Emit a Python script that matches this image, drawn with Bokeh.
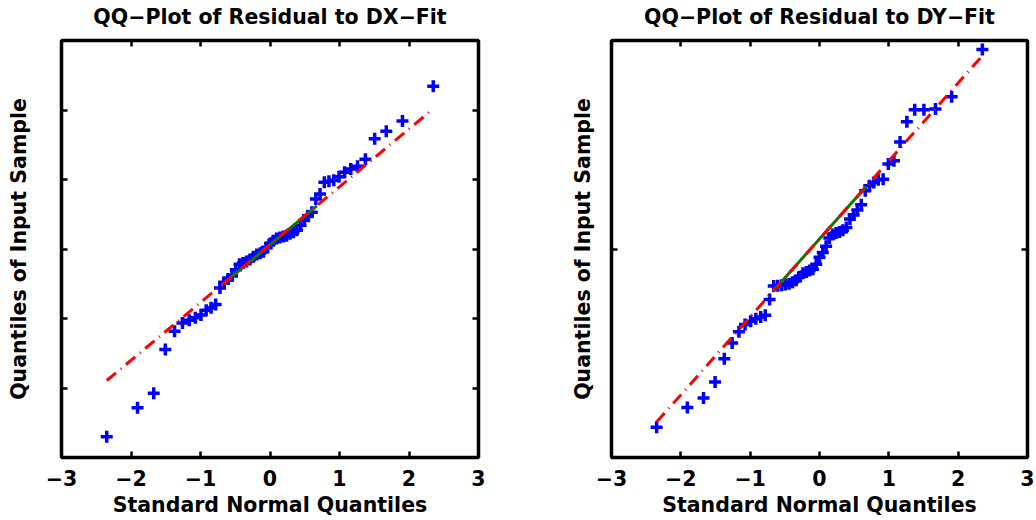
from bokeh.plotting import figure
from bokeh.layouts import row
from bokeh.models import Range1d, FixedTicker, LinearAxis
from bokeh.embed import file_html
from bokeh.resources import INLINE

# Standard normal quantiles (n = 53) shared by both panels
normal_quantiles = [-2.349, -1.906, -1.673, -1.506, -1.373, -1.260, -1.162, -1.074, -0.993,
                    -0.918, -0.848, -0.782, -0.720, -0.660, -0.602, -0.546, -0.492, -0.439,
                    -0.388, -0.337, -0.288, -0.239, -0.190, -0.142, -0.095, -0.047, 0.0,
                    0.047, 0.095, 0.142, 0.190, 0.239, 0.288, 0.337, 0.388, 0.439, 0.492,
                    0.546, 0.602, 0.660, 0.720, 0.782, 0.848, 0.918, 0.993, 1.074, 1.162,
                    1.260, 1.373, 1.506, 1.673, 1.906, 2.349]

# Sorted residual quantiles (axis units)
dx_residuals = [0.30, 0.715, 0.925, 1.554, 1.815, 1.935, 1.975, 2.01, 2.05, 2.12, 2.155, 2.20,
                2.44, 2.52, 2.57, 2.61, 2.70, 2.78, 2.80, 2.82, 2.85, 2.89, 2.92, 2.94, 2.96,
                3.02, 3.08, 3.12, 3.15, 3.165, 3.18, 3.19, 3.22, 3.24, 3.27, 3.34, 3.41, 3.48,
                3.53, 3.72, 3.79, 3.96, 3.975, 3.99, 4.04, 4.105, 4.15, 4.19, 4.29, 4.585,
                4.695, 4.84, 5.34]
dy_residuals = [-2.563, -2.279, -2.145, -1.914, -1.58, -1.351, -1.19, -1.086, -1.04, -1.005,
                -0.98, -0.952, -0.726, -0.534, -0.53, -0.52, -0.51, -0.50, -0.48, -0.45, -0.40,
                -0.35, -0.33, -0.31, -0.29, -0.22, -0.12, -0.05, 0.04, 0.16, 0.21, 0.23, 0.245,
                0.27, 0.31, 0.43, 0.49, 0.56, 0.635, 0.837, 0.909, 0.956, 0.995, 1.005, 1.222,
                1.27, 1.54, 1.832, 2.005, 2.005, 2.015, 2.19, 2.87]

# Reference lines: dash-dot extension over the full range, solid between quartiles
dx_ext_x = [-2.349, 2.349]
dx_ext_y = [1.108, 5.017]
dx_iqr_x = [-0.674, 0.674]
dx_iqr_y = [2.50, 3.62]
dy_ext_x = [-2.349, 2.349]
dy_ext_y = [-2.49, 2.78]
dy_iqr_x = [-0.674, 0.674]
dy_iqr_y = [-0.61, 0.90]

x_ticks = [-3, -2, -1, 0, 1, 2, 3]
x_tick_labels = ["\u22123", "\u22122", "\u22121", "0", "1", "2", "3"]
dx_y_ticks = [1, 2, 3, 4, 5]
dy_y_ticks = [0]

titles = ["QQ\u2212Plot of Residual to DX\u2212Fit", "QQ\u2212Plot of Residual to DY\u2212Fit"]
x_label = "Standard Normal Quantiles"
y_label = "Quantiles of Input Sample"

FONT = "DejaVu Sans"
FS = "20.5px"


def style_labeled_axis(ax, ticks):
    ax.ticker = FixedTicker(ticks=ticks)
    ax.axis_line_color = None
    ax.major_tick_in = 6
    ax.major_tick_out = 0
    ax.major_tick_line_width = 2.5
    ax.major_tick_line_color = "black"
    ax.minor_tick_line_color = None
    ax.major_label_text_font = FONT
    ax.major_label_text_font_style = "bold"
    ax.major_label_text_color = "black"
    ax.major_label_text_font_size = FS


def style_bare_axis(ax, ticks):
    # tick marks only (drawn as minor ticks, so no label texts are produced)
    ax.ticker = FixedTicker(ticks=[], minor_ticks=ticks)
    ax.axis_line_color = None
    ax.major_tick_line_color = None
    ax.minor_tick_in = 6
    ax.minor_tick_out = 0
    ax.minor_tick_line_width = 2.5
    ax.minor_tick_line_color = "black"
    ax.major_label_standoff = 0


def style_title_text(ax, text, standoff):
    ax.axis_label = text
    ax.axis_label_text_font = FONT
    ax.axis_label_text_font_size = FS
    ax.axis_label_text_font_style = "bold"
    ax.axis_label_text_color = "black"
    ax.axis_label_standoff = standoff


def panel(title, ys, ext_x, ext_y, iqr_x, iqr_y, yr, yticks, width, ml, mr, ylab_standoff):
    p = figure(width=width, height=520, x_range=Range1d(-3, 3), y_range=Range1d(*yr),
               output_backend="svg", toolbar_location=None,
               min_border_left=ml, min_border_right=mr, min_border_top=40, min_border_bottom=63)
    p.xgrid.visible = False
    p.ygrid.visible = False
    p.outline_line_color = "black"
    p.outline_line_width = 3.5
    p.background_fill_color = "white"
    p.border_fill_color = "white"

    xa = p.xaxis[0]
    style_labeled_axis(xa, x_ticks)
    xa.major_label_overrides = {t: l for t, l in zip(x_ticks, x_tick_labels)}
    xa.major_label_standoff = 12
    style_title_text(xa, x_label, 4)

    ya = p.yaxis[0]
    style_bare_axis(ya, yticks)
    style_title_text(ya, y_label, ylab_standoff)

    # top axis: inward tick marks, panel title as its label
    top = LinearAxis()
    style_bare_axis(top, x_ticks)
    style_title_text(top, title, 12)
    p.add_layout(top, "above")

    right = LinearAxis()
    style_bare_axis(right, yticks)
    p.add_layout(right, "right")

    p.scatter(normal_quantiles, ys, marker="cross", size=12, line_width=3.5, line_color="blue")
    p.line(iqr_x, iqr_y, line_color="#008000", line_width=3)
    p.line(ext_x, ext_y, line_color="red", line_width=3, line_dash="12 6 1 6")
    return p


p1 = panel(titles[0], dx_residuals, dx_ext_x, dx_ext_y, dx_iqr_x, dx_iqr_y, (0, 6), dx_y_ticks,
           518, 61, 40, 31)
p2 = panel(titles[1], dy_residuals, dy_ext_x, dy_ext_y, dy_iqr_x, dy_iqr_y, (-3, 3), dy_y_ticks,
           518, 93, 9, 17)

layout = row(p1, p2)
open("out.html", "w").write(file_html(layout, INLINE))
